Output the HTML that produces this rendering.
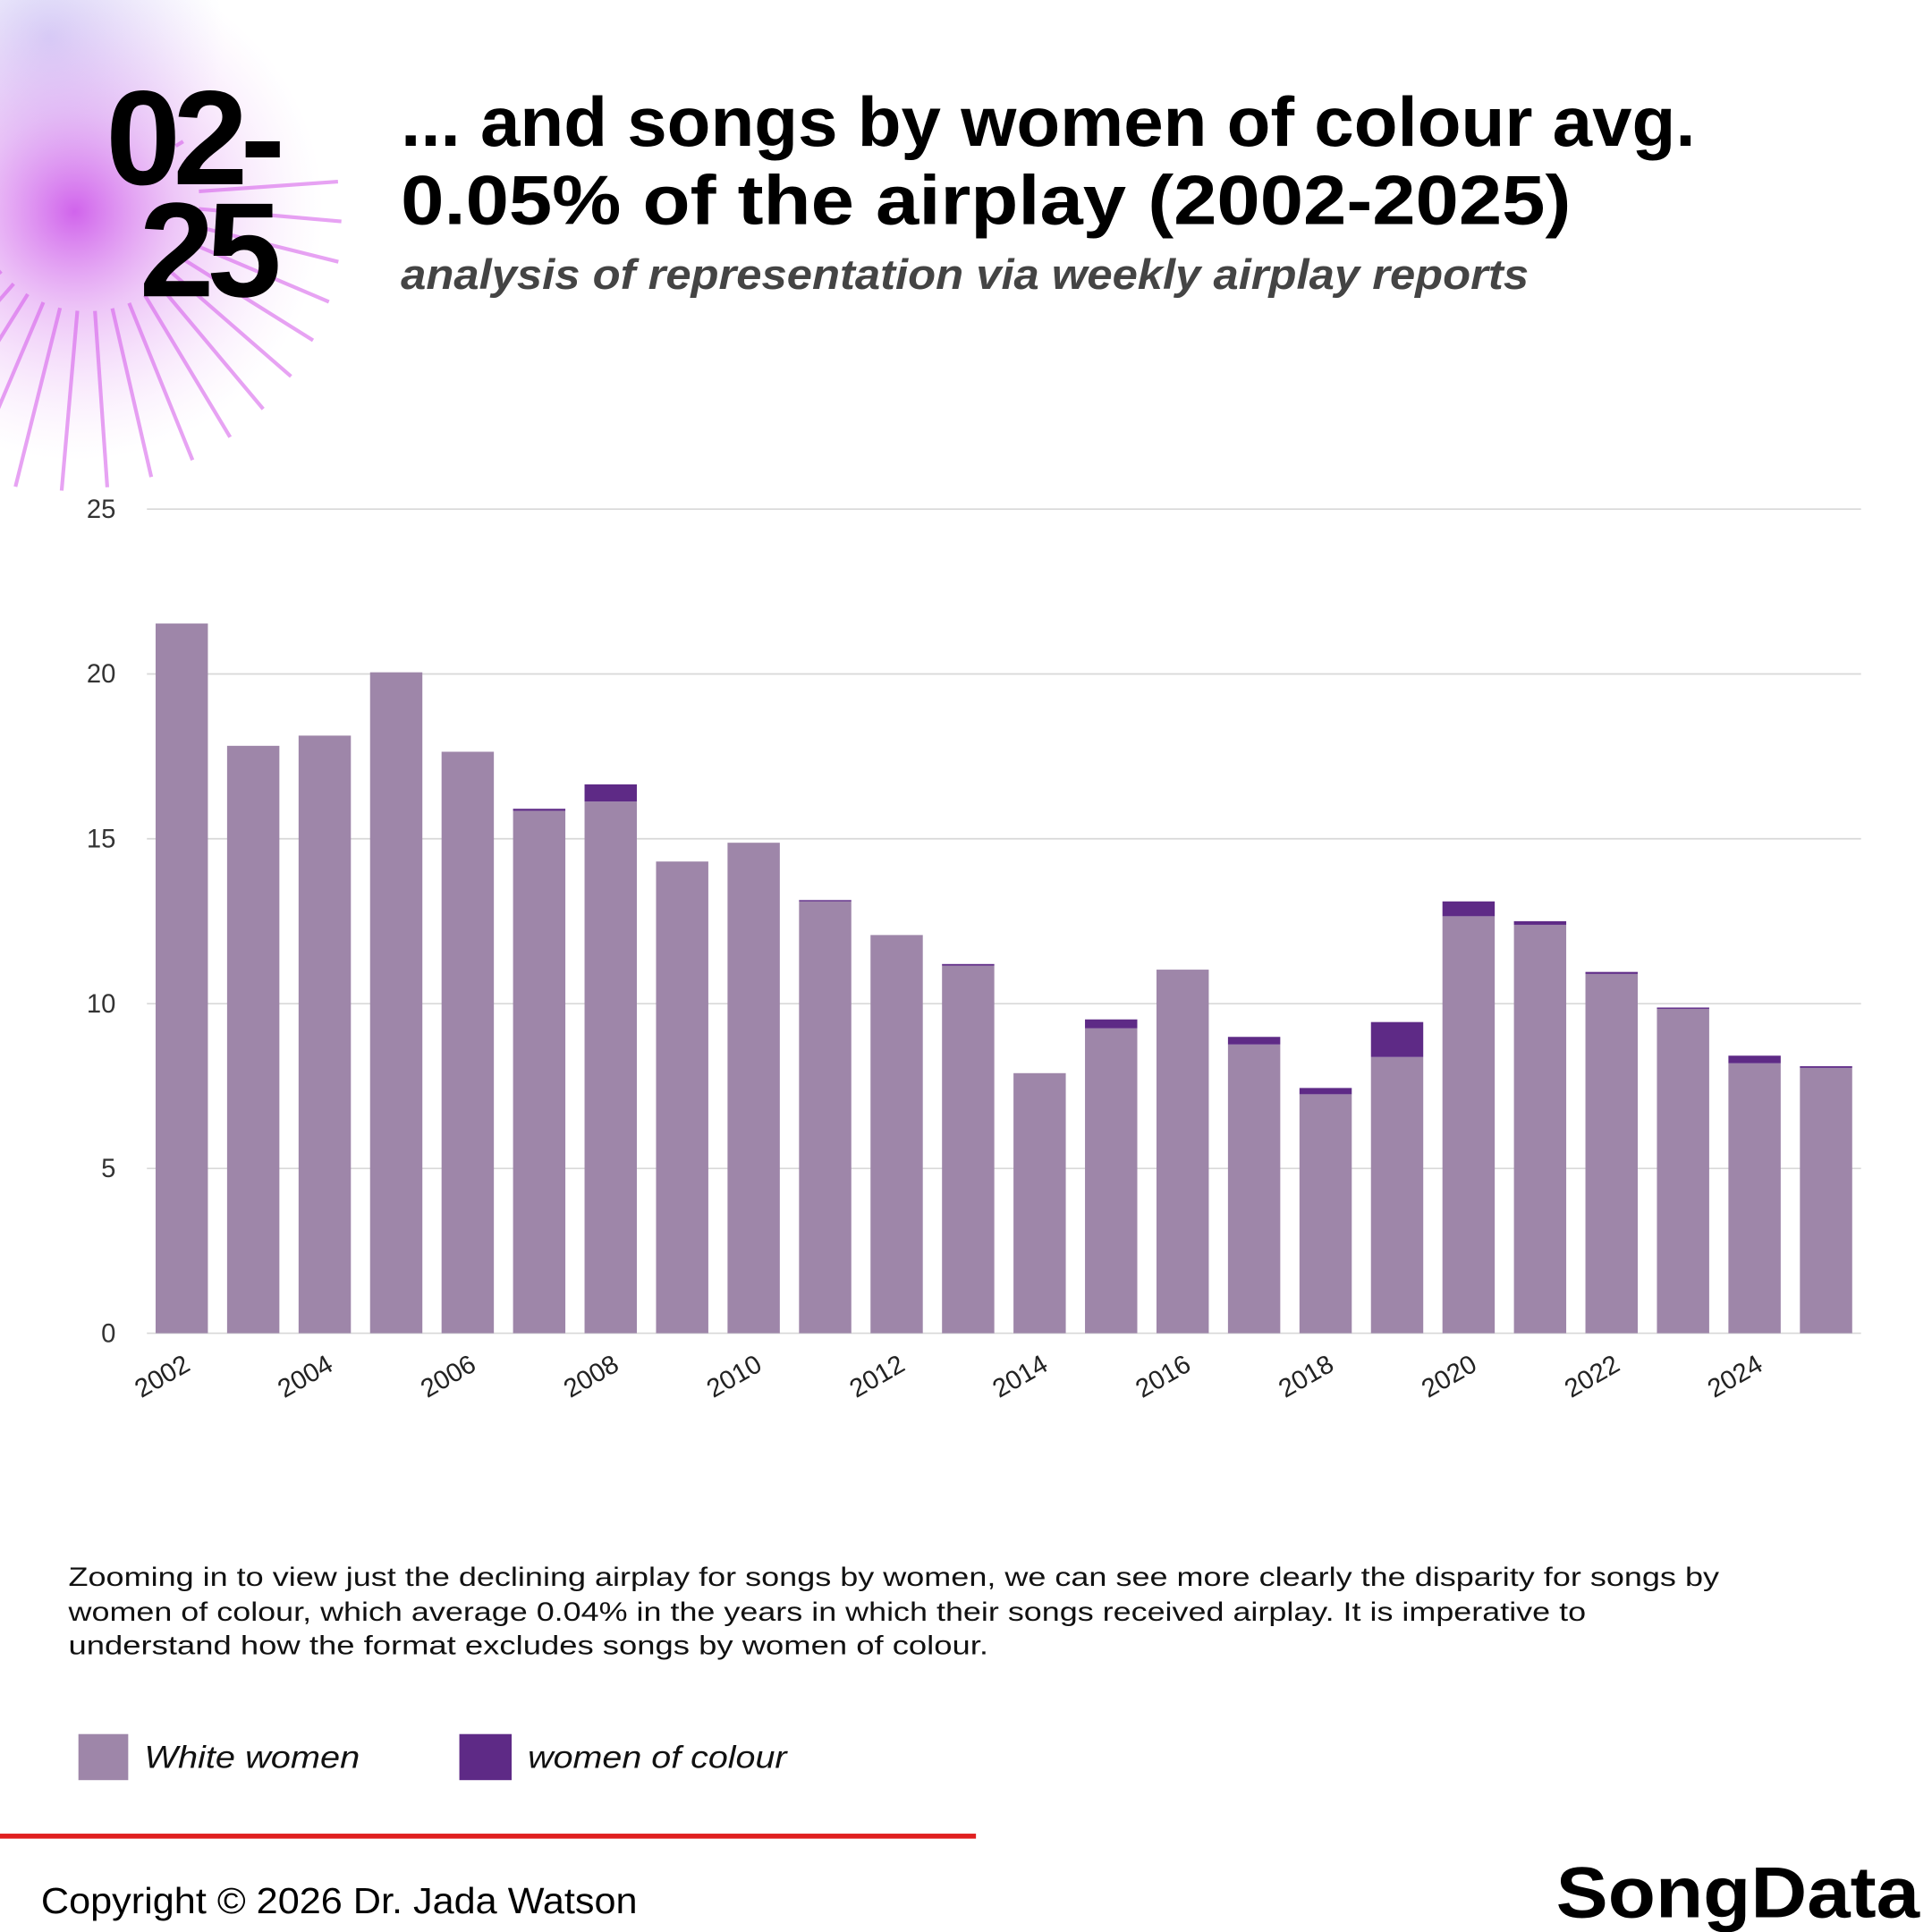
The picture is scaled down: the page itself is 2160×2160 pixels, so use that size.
<!DOCTYPE html>
<html><head><meta charset="utf-8"><style>
html,body{margin:0;padding:0;background:#fff;}
svg{display:block;}
</style></head><body>
<svg id="chart" width="2160" height="2160" viewBox="0 0 1552 1552" xmlns="http://www.w3.org/2000/svg" font-family="Liberation Sans, sans-serif">
<defs>
<radialGradient id="burst" cx="0.5" cy="0.5" r="0.5">
<stop offset="0" stop-color="#c848e8" stop-opacity="0.85"/>
<stop offset="0.4" stop-color="#d880ee" stop-opacity="0.45"/>
<stop offset="1" stop-color="#f0c8f8" stop-opacity="0"/>
</radialGradient>
<radialGradient id="blue" cx="0.5" cy="0.5" r="0.5">
<stop offset="0" stop-color="#a8a8ee" stop-opacity="0.5"/>
<stop offset="1" stop-color="#c8c8f4" stop-opacity="0"/>
</radialGradient>
</defs>
<g>
<circle cx="40" cy="30" r="140" fill="url(#blue)"/>
<circle cx="60" cy="170" r="200" fill="url(#burst)"/>
<g id="rays" stroke="#d458ea" stroke-width="3" opacity="0.55"></g>
</g>
<g>
<text x="85" y="148" font-size="108" font-weight="bold" letter-spacing="-6" fill="#000">02-</text>
<text x="112" y="238" font-size="108" font-weight="bold" letter-spacing="-6" fill="#000">25</text>
<text x="322" y="117" font-size="56" font-weight="bold" fill="#000" textLength="1040" lengthAdjust="spacingAndGlyphs">... and songs by women of colour avg.</text>
<text x="322" y="180" font-size="56" font-weight="bold" fill="#000" textLength="940" lengthAdjust="spacingAndGlyphs">0.05% of the airplay (2002-2025)</text>
<text x="322" y="232" font-size="34" font-weight="bold" font-style="italic" fill="#444" textLength="906" lengthAdjust="spacingAndGlyphs">analysis of representation via weekly airplay reports</text>
</g>
<g id="grid"></g>
<g id="bars"></g>
<g id="xlabels"></g>
<g font-size="21" fill="#111">
<text x="55" y="1274" textLength="1326" lengthAdjust="spacingAndGlyphs">Zooming in to view just the declining airplay for songs by women, we can see more clearly the disparity for songs by</text>
<text x="55" y="1302" textLength="1219" lengthAdjust="spacingAndGlyphs">women of colour, which average 0.04% in the years in which their songs received airplay. It is imperative to</text>
<text x="55" y="1329" textLength="739" lengthAdjust="spacingAndGlyphs">understand how the format excludes songs by women of colour.</text>
</g>
<g>
<rect x="63" y="1393" width="40" height="37" fill="#9e86a9"/>
<text x="116" y="1420" font-size="25" font-style="italic" fill="#111" textLength="173" lengthAdjust="spacingAndGlyphs">White women</text>
<rect x="369" y="1393" width="42" height="37" fill="#5e2a86"/>
<text x="424" y="1420" font-size="25" font-style="italic" fill="#111" textLength="208" lengthAdjust="spacingAndGlyphs">women of colour</text>
</g>
<rect x="0" y="1473" width="784" height="4" fill="#e02020"/>
<text x="33" y="1537" font-size="29" fill="#000" textLength="479" lengthAdjust="spacingAndGlyphs">Copyright © 2026 Dr. Jada Watson</text>
<text x="1250" y="1540" font-size="58" font-weight="bold" fill="#000" textLength="292" lengthAdjust="spacingAndGlyphs">SongData</text>
</svg>
<script>
var years=[2002,2003,2004,2005,2006,2007,2008,2009,2010,2011,2012,2013,2014,2015,2016,2017,2018,2019,2020,2021,2022,2023,2024,2025];
var whiteWomen=[21.53,17.82,18.13,20.05,17.64,15.85,16.13,14.31,14.88,13.1,12.08,11.15,7.89,9.25,11.03,8.76,7.25,8.38,12.65,12.39,10.9,9.84,8.19,8.05];
var womenOfColour=[0,0,0,0,0,0.06,0.52,0,0,0.04,0,0.05,0,0.27,0,0.23,0.19,1.06,0.45,0.11,0.06,0.04,0.23,0.05];
var yTicks=[0,5,10,15,20,25];
var xTickLabels=["2002","2004","2006","2008","2010","2012","2014","2016","2018","2020","2022","2024"];
var NS="http://www.w3.org/2000/svg";
function y(v){return 1071-v*(1071-409)/25;}
function xBand(i){return 125+i*57.43;}
var bw=42;
function mk(t,a,p){var e=document.createElementNS(NS,t);for(var k in a)e.setAttribute(k,a[k]);p.appendChild(e);return e;}
var rays=document.getElementById('rays');
for(var a=-40;a<150;a+=9){var r=a*Math.PI/180;var L=170+((a*37+400)%110);
var ln=mk('line',{x1:70+90*Math.cos(r),y1:160+90*Math.sin(r),x2:70+L*Math.cos(r),y2:160+L*Math.sin(r)},rays);

}
var g=document.getElementById('grid');
yTicks.forEach(function(t){
var l=mk('line',{x1:118,x2:1495,y1:y(t),y2:y(t),stroke:'#d8d8d8','stroke-width':1.2},g);


var tx=mk('text',{x:93,y:y(t)+7,'font-size':21,fill:'#333','text-anchor':'end'},g);
tx.textContent=t;


});
var b=document.getElementById('bars');
years.forEach(function(yr,i){
var x=xBand(i);
var r1=mk('rect',{x:x,y:y(whiteWomen[i]),width:bw,height:y(0)-y(whiteWomen[i]),fill:'#9e86a9'},b);


if(womenOfColour[i]>0){
var tot=whiteWomen[i]+womenOfColour[i];
var r2=mk('rect',{x:x,y:y(tot),width:bw,height:y(whiteWomen[i])-y(tot),fill:'#5e2a86'},b);


}
});
var xl=document.getElementById('xlabels');
xTickLabels.forEach(function(lab){
var i=years.indexOf(+lab);
var cx=xBand(i)+bw/2+8;
var t=mk('text',{x:cx,y:1100,'font-size':21,fill:'#222','text-anchor':'end',transform:'rotate(-30 '+cx+' 1100)'},xl);
t.textContent=lab;


});
</script>
</body></html>
